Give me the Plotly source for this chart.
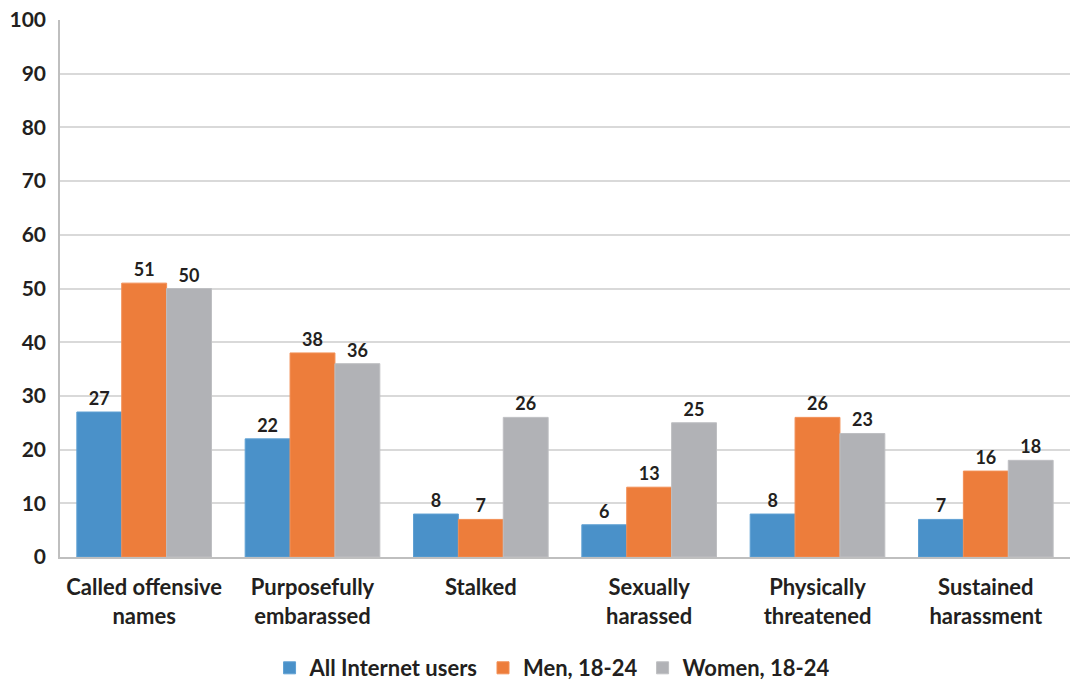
import plotly.graph_objects as go

categories = ["Called offensive<br>names", "Purposefully<br>embarassed", "Stalked",
              "Sexually<br>harassed", "Physically<br>threatened", "Sustained<br>harassment"]
all_users = [27, 22, 8, 6, 8, 7]
men_18_24 = [51, 38, 7, 13, 26, 16]
women_18_24 = [50, 36, 26, 25, 23, 18]

series = [
    ("All Internet users", all_users, "#4A91C9", "#5FA0D3"),
    ("Men, 18-24", men_18_24, "#ED7D3B", "#F28F55"),
    ("Women, 18-24", women_18_24, "#B1B2B6", "#BEBFC2"),
]

FONT = "Lato"
TXT = "#231F20"

fig = go.Figure()
for name, vals, color, edge in series:
    fig.add_trace(go.Bar(
        name=name, x=categories, y=vals,
        marker=dict(color=color, line=dict(color=edge, width=1)),
        text=[str(v) for v in vals], textposition="outside",
        textfont=dict(family=FONT, size=18, color=TXT, weight="bold"),
        cliponaxis=False,
    ))

fig.update_layout(
    width=1075, height=682,
    margin=dict(l=60, r=5, t=20, b=125, pad=0, autoexpand=False),
    paper_bgcolor="white", plot_bgcolor="white",
    barmode="group", bargap=0.2, bargroupgap=0,
    font=dict(family=FONT, color=TXT, size=20),
    legend=dict(orientation="h", xref="container", x=0.514, xanchor="center",
                yref="container", y=0.0205, yanchor="middle",
                font=dict(family=FONT, size=22, color=TXT, weight="bold"),
                itemwidth=30, traceorder="normal"),
    xaxis=dict(showline=True, linecolor="#BFBFBF", linewidth=1.5, ticks="",
               automargin=False, ticklabelstandoff=10,
               tickfont=dict(family=FONT, size=22, color=TXT, weight="bold")),
    yaxis=dict(range=[0, 100], dtick=10, showgrid=True, gridcolor="#D9D9D9", gridwidth=1.5,
               showline=True, linecolor="#BFBFBF", linewidth=1.5, ticks="",
               zeroline=False, ticklabelstandoff=8, automargin=False,
               tickfont=dict(family=FONT, size=21, color=TXT, weight="bold")),
)

fig.write_html("out.html", include_plotlyjs=True, full_html=True,
               default_width="1075px", default_height="682px",
               post_script="document.body.style.margin='0';document.body.style.overflow='hidden';")
